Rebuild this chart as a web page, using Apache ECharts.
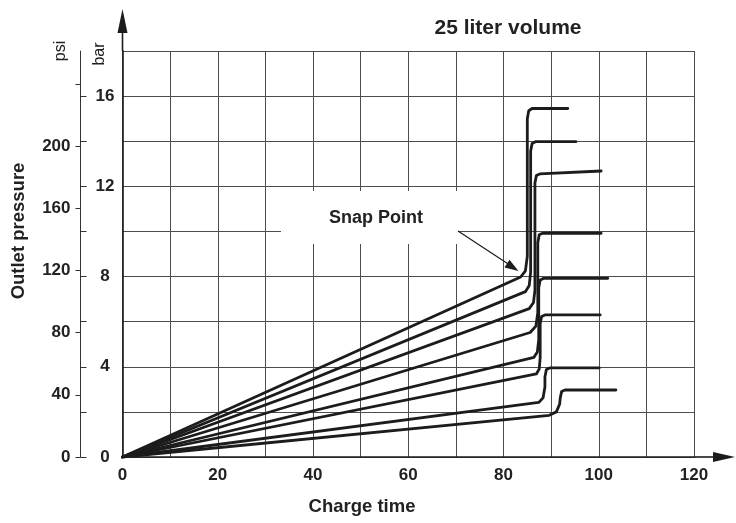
<!DOCTYPE html>
<html><head><meta charset="utf-8">
<script src="https://cdn.jsdelivr.net/npm/echarts@6/dist/echarts.min.js"></script>
<style>html,body{margin:0;padding:0;background:#fff}#c{width:736px;height:523px}</style>
</head><body><div id="c"></div>
<script>
// ---- data (x = charge time, y = outlet pressure in bar) ----
const xLabelTicks = [0, 20, 40, 60, 80, 100, 120];
const barLabelTicks = [0, 4, 8, 12, 16];
const barMinorTicks = [0, 2, 4, 6, 8, 10, 12, 14, 16];
const psiLabelTicks = [0, 40, 80, 120, 160, 200];
const psiMinorTicks = [0, 40, 80, 120, 160, 200, 240];

const curve1 = [[0,0],[83.6,7.98],[84.6,8.25],[85.0,8.9],[85.0,15.0],[85.3,15.35],[86.0,15.45],[93.5,15.45]];
const curve2 = [[0,0],[84.6,7.33],[85.4,7.6],[85.7,8.2],[85.7,13.55],[86.0,13.9],[86.7,13.98],[95.2,13.98]];
const curve3 = [[0,0],[85.4,6.58],[86.3,6.85],[86.6,7.4],[86.6,12.15],[86.9,12.48],[87.6,12.55],[100.5,12.68]];
const curve4 = [[0,0],[85.6,5.52],[86.8,5.8],[87.2,6.4],[87.2,9.5],[87.5,9.85],[88.2,9.92],[100.5,9.92]];
const curve5 = [[0,0],[86.4,4.42],[87.1,4.65],[87.4,5.2],[87.4,7.5],[87.7,7.85],[88.4,7.92],[101.9,7.92]];
const curve6 = [[0,0],[86.9,3.68],[87.5,3.9],[87.7,4.4],[87.7,5.9],[88.0,6.23],[88.7,6.30],[100.3,6.30]];
const curve7 = [[0,0],[87.4,2.42],[88.3,2.62],[88.7,3.1],[88.7,3.55],[89.0,3.88],[89.7,3.95],[100.1,3.95]];
const curve8 = [[0,0],[89.6,1.85],[91.1,2.0],[91.8,2.35],[91.9,2.6],[92.2,2.9],[92.9,2.97],[103.6,2.97]];
const curves = [curve1, curve2, curve3, curve4, curve5, curve6, curve7, curve8];

const titleText = '25 liter volume';
const xTitle = 'Charge time';
const yTitle = 'Outlet pressure';
const snapLabel = 'Snap Point';
const PSI_PER_BAR = 14.5038;
const X_MAX = 120, BAR_MAX = 18;

// ---- chart ----
const FONT = "'Liberation Sans', Arial, Helvetica, sans-serif";
const INK = '#1c1c1c';
const GRIDC = '#4d4d4d';
const chart = echarts.init(document.getElementById('c'), null, {renderer: 'canvas'});
const G = {left: 122.5, right: 42, top: 51, bottom: 66};
const gx0 = G.left, gx1 = 736 - G.right, gy0 = G.top, gy1 = 523 - G.bottom;

const boldLabel = {fontFamily: FONT, fontWeight: 'bold', fontSize: 17, color: '#222'};

chart.setOption({
  animation: false,
  backgroundColor: '#fff',
  grid: G,
  xAxis: {
    type: 'value', min: 0, max: X_MAX, interval: 10,
    axisLine: {show: true, lineStyle: {color: INK, width: 1.6}},
    axisTick: {show: false},
    axisLabel: Object.assign({margin: 10, customValues: xLabelTicks}, boldLabel),
    splitLine: {show: true, lineStyle: {color: GRIDC, width: 1}}
  },
  yAxis: [
    { // main bar scale with grid
      type: 'value', min: 0, max: BAR_MAX, interval: 2, position: 'left',
      axisLine: {show: true, lineStyle: {color: INK, width: 1.6}},
      axisTick: {show: false}, axisLabel: {show: false},
      splitLine: {show: true, lineStyle: {color: GRIDC, width: 1}}
    },
    { // psi scale
      type: 'value', min: 0, max: BAR_MAX * PSI_PER_BAR, position: 'left', offset: 42,
      axisLine: {show: true, lineStyle: {color: '#333', width: 1}},
      axisTick: {show: true, length: 5, customValues: psiMinorTicks, lineStyle: {color: '#333', width: 1}},
      axisLabel: Object.assign({margin: 10, customValues: psiLabelTicks}, boldLabel),
      splitLine: {show: false}
    },
    { // bar labels next to psi axis
      type: 'value', min: 0, max: BAR_MAX, position: 'left', offset: 42,
      axisLine: {show: false},
      axisTick: {show: true, inside: true, length: 6, customValues: barMinorTicks, lineStyle: {color: '#333', width: 1}},
      axisLabel: Object.assign({inside: true, align: 'center', margin: 24.5, customValues: barLabelTicks}, boldLabel),
      splitLine: {show: false}
    }
  ],
  series: curves.map(function (c) {
    return {
      type: 'line', data: c, xAxisIndex: 0, yAxisIndex: 0,
      symbol: 'none', smooth: false, z: 5,
      lineStyle: {color: INK, width: 2.8, join: 'round', cap: 'round'}
    };
  }),
  graphic: [
    {type: 'text', x: 508, y: 28, z: 20, style: {text: titleText, font: 'bold 21px ' + FONT, fill: '#222', textAlign: 'center', textVerticalAlign: 'middle'}},
    {type: 'text', x: 18.5, y: 231, rotation: Math.PI / 2, z: 20, style: {text: yTitle, font: 'bold 18.5px ' + FONT, fill: '#222', textAlign: 'center', textVerticalAlign: 'middle'}},
    {type: 'text', x: 362, y: 507, z: 20, style: {text: xTitle, font: 'bold 18.5px ' + FONT, fill: '#222', textAlign: 'center', textVerticalAlign: 'middle'}},
    {type: 'text', x: 61, y: 51, rotation: Math.PI / 2, z: 20, style: {text: 'psi', font: '16px ' + FONT, fill: '#222', textAlign: 'center', textVerticalAlign: 'middle'}},
    {type: 'text', x: 100, y: 54, rotation: Math.PI / 2, z: 20, style: {text: 'bar', font: '16px ' + FONT, fill: '#222', textAlign: 'center', textVerticalAlign: 'middle'}},
    // snap point label box
    {type: 'rect', z: 10, shape: {x: 281, y: 191, width: 177, height: 53}, style: {fill: '#fff'}},
    {type: 'text', x: 376, y: 218, z: 20, style: {text: snapLabel, font: 'bold 18px ' + FONT, fill: '#222', textAlign: 'center', textVerticalAlign: 'middle'}},
    {type: 'line', z: 20, shape: {x1: 458, y1: 231, x2: 509, y2: 264.5}, style: {stroke: INK, lineWidth: 1.2}},
    {type: 'polygon', z: 20, shape: {points: [[518.5, 271], [504.5, 267.5], [509.5, 259.8]]}, style: {fill: INK}},
    // axis arrows
    {type: 'line', z: 20, shape: {x1: gx0, y1: gy0, x2: gx0, y2: 30}, style: {stroke: INK, lineWidth: 1.6}},
    {type: 'polygon', z: 20, shape: {points: [[gx0, 9], [gx0 - 5, 33], [gx0 + 5, 33]]}, style: {fill: INK}},
    {type: 'line', z: 20, shape: {x1: gx1, y1: gy1, x2: 716, y2: gy1}, style: {stroke: INK, lineWidth: 1.6}},
    {type: 'polygon', z: 20, shape: {points: [[735, gy1], [713, gy1 - 5], [713, gy1 + 5]]}, style: {fill: INK}}
  ]
});
</script>
</body></html>
